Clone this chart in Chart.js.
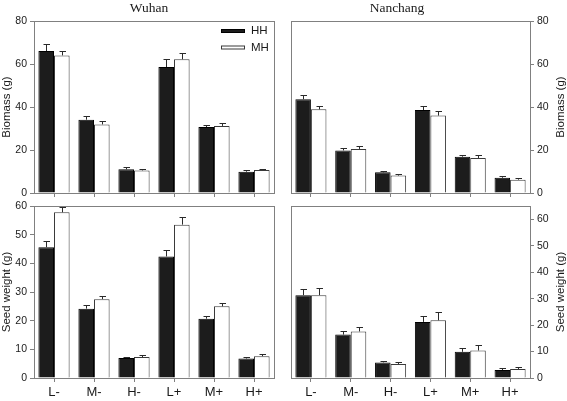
<!DOCTYPE html>
<html>
<head>
<meta charset="utf-8">
<script src="https://cdn.jsdelivr.net/npm/chart.js@4.4.1/dist/chart.umd.min.js"></script>
<style>
  html, body { margin: 0; padding: 0; background: #fff; }
  #wrap { position: relative; width: 567px; height: 401px; }
  canvas { position: absolute; left: 0; top: 0; }
</style>
</head>
<body>
<div id="wrap">
  <canvas id="c1" width="567" height="401"></canvas>
  <canvas id="c2" width="567" height="401"></canvas>
  <canvas id="c3" width="567" height="401"></canvas>
  <canvas id="c4" width="567" height="401"></canvas>
</div>
<script>
// ---------------- data ----------------
const categories = ['L-', 'M-', 'H-', 'L+', 'M+', 'H+'];
const seriesNames = ['HH', 'MH'];
const siteNames = ['Wuhan', 'Nanchang'];
const biomassTicks = [0, 20, 40, 60, 80];
const seedTicks = [0, 10, 20, 30, 40, 50, 60];

const wuhanBiomassHH     = [66.0, 34.1, 11.0, 58.6, 30.7, 9.9];
const wuhanBiomassHHErr  = [3.5, 1.9, 0.9, 3.9, 1.1, 0.6];
const wuhanBiomassMH     = [64.0, 31.9, 10.5, 62.2, 31.2, 10.7];
const wuhanBiomassMHErr  = [1.9, 1.4, 0.5, 2.9, 1.4, 0.5];

const nanchangBiomassHH    = [43.6, 19.8, 9.6, 38.6, 16.9, 7.1];
const nanchangBiomassHHErr = [1.8, 1.0, 0.8, 1.9, 0.6, 0.7];
const nanchangBiomassMH    = [38.9, 20.5, 8.1, 36.0, 16.3, 6.2];
const nanchangBiomassMHErr = [1.6, 1.2, 0.7, 2.1, 1.2, 0.9];

const wuhanSeedHH     = [45.6, 24.2, 6.95, 42.4, 20.7, 6.8];
const wuhanSeedHHErr  = [2.2, 1.3, 0.55, 2.1, 0.8, 0.7];
const wuhanSeedMH     = [57.8, 27.5, 7.3, 53.5, 25.0, 7.6];
const wuhanSeedMHErr  = [1.9, 1.1, 0.6, 2.8, 1.2, 0.7];

const nanchangSeedHH    = [31.3, 16.4, 5.9, 21.2, 9.9, 3.0];
const nanchangSeedHHErr = [2.2, 1.2, 0.5, 2.4, 1.5, 0.8];
const nanchangSeedMH    = [31.3, 17.6, 5.3, 21.8, 10.4, 3.4];
const nanchangSeedMHErr = [2.7, 1.6, 0.7, 3.2, 1.9, 0.7];

// ---------------- styling ----------------
const W = 567, H = 401;
const AXIS = '#808080';
const TEXT = '#1a1a1a';
const SANS = '"Liberation Sans", Arial, sans-serif';
const SERIF = '"Liberation Serif", "Times New Roman", serif';

Chart.defaults.font.family = SANS;
Chart.defaults.color = TEXT;

const errorBarPlugin = {
  id: 'errorBars',
  afterDatasetsDraw(chart) {
    const ctx = chart.ctx;
    const yScale = chart.scales.y;
    ctx.save();
    ctx.strokeStyle = '#2a2a2a';
    ctx.lineWidth = 1;
    chart.data.datasets.forEach((ds, di) => {
      const meta = chart.getDatasetMeta(di);
      meta.data.forEach((bar, i) => {
        const v = ds.data[i], e = ds.errors[i];
        const yTop = yScale.getPixelForValue(v + e);
        const yBar = yScale.getPixelForValue(v);
        const x = Math.round(bar.x) + 0.5;
        const yt = Math.round(yTop) + 0.5;
        ctx.beginPath();
        ctx.moveTo(x, yBar);
        ctx.lineTo(x, yt);
        ctx.moveTo(x - 3, yt);
        ctx.lineTo(x + 3.5, yt);
        ctx.stroke();
      });
    });
    ctx.restore();
  }
};

const framePlugin = {
  id: 'frame',
  afterDraw(chart) {
    const a = chart.chartArea, ctx = chart.ctx;
    ctx.save();
    ctx.strokeStyle = AXIS;
    ctx.lineWidth = 1;
    ctx.strokeRect(Math.round(a.left) + 0.5, Math.round(a.top) + 0.5,
                   Math.round(a.right - a.left), Math.round(a.bottom - a.top));
    ctx.restore();
  }
};

const textPlugin = {
  id: 'texts',
  afterDraw(chart, args, opts) {
    const ctx = chart.ctx, a = chart.chartArea;
    ctx.save();
    if (opts.title) {
      ctx.font = '13.5px ' + SERIF;
      ctx.fillStyle = TEXT;
      ctx.textAlign = 'center';
      ctx.textBaseline = 'middle';
      ctx.fillText(opts.title, opts.titleX, 8);
    }
    if (opts.yTitle) {
      ctx.font = '11.5px ' + SANS;
      ctx.fillStyle = TEXT;
      ctx.textAlign = 'center';
      ctx.textBaseline = 'middle';
      ctx.translate(opts.yTitleX, (a.top + a.bottom) / 2);
      ctx.rotate(-Math.PI / 2);
      ctx.fillText(opts.yTitle, 0, 0);
      ctx.setTransform(1, 0, 0, 1, 0, 0);
    }
    if (opts.legend) {
      const items = chart.data.datasets;
      ctx.font = '11.5px ' + SANS;
      ctx.textAlign = 'left';
      ctx.textBaseline = 'middle';
      items.forEach((ds, i) => {
        const cy = 31 + i * 16.5;
        ctx.fillStyle = ds.backgroundColor;
        ctx.strokeStyle = ds.borderColor;
        ctx.lineWidth = 1;
        ctx.fillRect(221, cy - 1.5, 24, 3);
        ctx.strokeRect(221.5, cy - 1.5, 23, 3);
        ctx.fillStyle = TEXT;
        ctx.fillText(ds.label, 251, cy);
      });
    }
    ctx.restore();
  }
};

function makePanel(id, cfg) {
  const ds = [
    { label: seriesNames[0], data: cfg.hh, errors: cfg.hhErr,
      backgroundColor: '#1c1c1c', borderColor: '#000000', borderWidth: 1 },
    { label: seriesNames[1], data: cfg.mh, errors: cfg.mhErr,
      backgroundColor: '#ffffff', borderColor: '#3a3a3a', borderWidth: 1 }
  ];
  const a = cfg.area; // target chart area
  const yW = cfg.right ? 37 : 34;
  const xH = 20;
  const padding = cfg.right
    ? { left: a.left, right: W - a.right - yW, top: a.top, bottom: H - a.bottom - xH }
    : { left: a.left - yW, right: W - a.right, top: a.top, bottom: H - a.bottom - xH };
  return new Chart(document.getElementById(id), {
    type: 'bar',
    data: { labels: categories, datasets: ds },
    options: {
      responsive: false,
      animation: false,
      devicePixelRatio: 1,
      layout: { padding },
      datasets: { bar: { categoryPercentage: 0.78, barPercentage: 1.0 } },
      plugins: {
        legend: { display: false },
        tooltip: { enabled: false },
        texts: { title: cfg.title, titleX: cfg.titleX, yTitle: cfg.yTitle,
                 yTitleX: cfg.yTitleX, legend: cfg.legend }
      },
      scales: {
        x: {
          offset: true,
          grid: { offset: false, drawOnChartArea: false, drawTicks: true,
                  tickLength: 4, color: AXIS },
          border: { color: AXIS },
          ticks: { display: cfg.xLabels, font: { size: 13 }, color: TEXT,
                   padding: 3, maxRotation: 0 },
          afterFit: s => { s.height = xH; }
        },
        y: {
          position: cfg.right ? 'right' : 'left',
          min: 0, max: cfg.max,
          afterBuildTicks: s => { s.ticks = cfg.ticks.map(v => ({ value: v })); },
          ticks: { font: { size: 10.5 }, color: TEXT, padding: 3 },
          grid: { drawOnChartArea: false, drawTicks: true, tickLength: 4, color: AXIS },
          border: { color: AXIS },
          afterFit: s => { s.width = yW; }
        }
      }
    },
    plugins: [errorBarPlugin, framePlugin, textPlugin]
  });
}

makePanel('c1', {
  hh: wuhanBiomassHH, hhErr: wuhanBiomassHHErr, mh: wuhanBiomassMH, mhErr: wuhanBiomassMHErr,
  area: { left: 34, right: 274, top: 21, bottom: 193 }, max: 80, ticks: biomassTicks,
  right: false, xLabels: false, title: siteNames[0], titleX: 149,
  yTitle: 'Biomass (g)', yTitleX: 7, legend: true
});
makePanel('c2', {
  hh: nanchangBiomassHH, hhErr: nanchangBiomassHHErr, mh: nanchangBiomassMH, mhErr: nanchangBiomassMHErr,
  area: { left: 291, right: 530, top: 21, bottom: 193 }, max: 80, ticks: biomassTicks,
  right: true, xLabels: false, title: siteNames[1], titleX: 397,
  yTitle: 'Biomass (g)', yTitleX: 561, legend: false
});
makePanel('c3', {
  hh: wuhanSeedHH, hhErr: wuhanSeedHHErr, mh: wuhanSeedMH, mhErr: wuhanSeedMHErr,
  area: { left: 34, right: 274, top: 206, bottom: 378 }, max: 60, ticks: seedTicks,
  right: false, xLabels: true, title: null,
  yTitle: 'Seed weight (g)', yTitleX: 7, legend: false
});
makePanel('c4', {
  hh: nanchangSeedHH, hhErr: nanchangSeedHHErr, mh: nanchangSeedMH, mhErr: nanchangSeedMHErr,
  area: { left: 291, right: 530, top: 206, bottom: 378 }, max: 65, ticks: seedTicks,
  right: true, xLabels: true, title: null,
  yTitle: 'Seed weight (g)', yTitleX: 561, legend: false
});
</script>
</body>
</html>
